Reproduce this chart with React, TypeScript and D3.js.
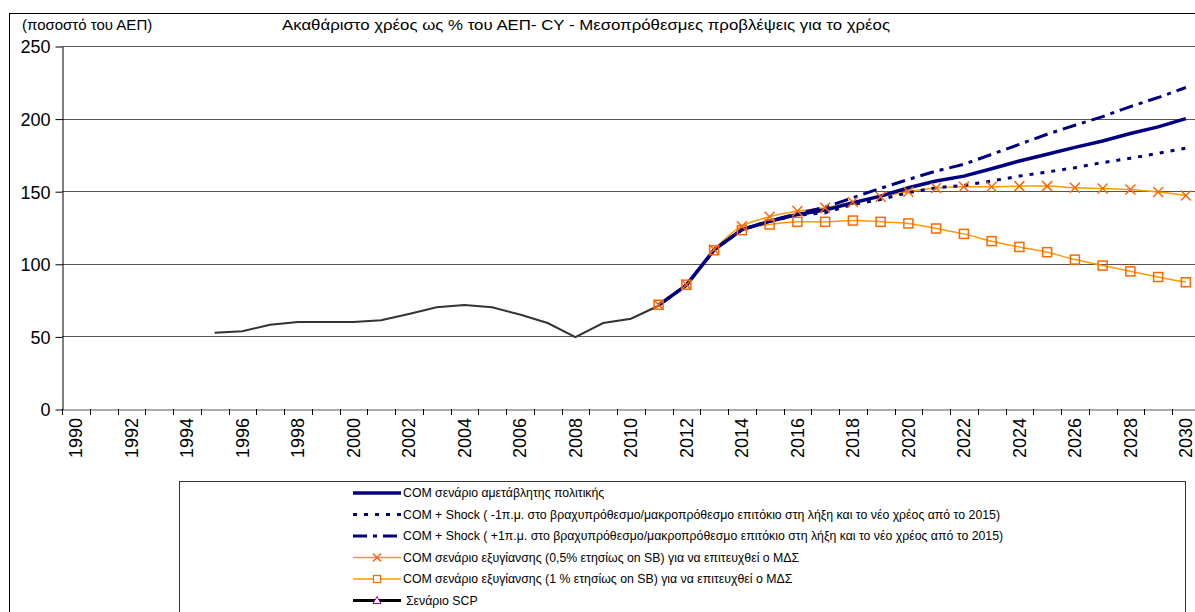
import React, { useEffect, useRef } from 'react';
import * as d3 from 'd3';

// categories (years on the x axis)
const years: number[] = d3.range(1990, 2031);
const yTicks = [0, 50, 100, 150, 200, 250];

// historical debt ratio
const histYears: number[] = d3.range(1995, 2012);
const histValues = [52.5, 53.6, 58.0, 59.9, 59.9, 59.9, 61.2, 65.4, 70.0, 71.6, 70.0, 65.1, 59.2, 49.5, 59.2, 62.2, 71.1];

// projections 2011-2030
const projYears: number[] = d3.range(2011, 2031);
const comBaseline = [71.5, 85.3, 109.6, 123.5, 129.3, 134.0, 137.0, 142.0, 146.6, 152.4, 157.0, 160.4, 165.5, 170.8, 175.4, 180.2, 184.6, 189.7, 194.3, 200.0];
const shockMinus = [71.5, 85.3, 109.6, 123.5, 129.3, 133.5, 135.1, 140.9, 144.3, 149.0, 152.4, 154.0, 157.0, 160.4, 163.2, 166.2, 169.7, 172.7, 176.1, 179.6];
const shockPlus = [71.5, 85.3, 109.6, 123.5, 129.5, 134.5, 139.0, 145.5, 152.0, 158.1, 163.9, 168.5, 175.4, 182.3, 189.2, 195.4, 201.4, 208.3, 214.5, 221.4];
const fiscal05 = [71.8, 85.6, 109.8, 125.9, 132.4, 136.3, 138.6, 142.5, 146.2, 149.6, 152.2, 153.1, 153.1, 153.5, 153.5, 152.4, 151.9, 151.2, 149.4, 147.1];
const fiscal1 = [71.8, 85.6, 109.3, 123.2, 127.1, 128.9, 128.9, 129.8, 128.9, 127.8, 124.3, 120.6, 115.6, 111.6, 108.0, 102.9, 98.8, 94.8, 90.9, 87.3];
const scpValues: number[] = [];

const legendLabels = [
  'COM σενάριο αμετάβλητης πολιτικής',
  'COM + Shock ( -1π.μ. στο βραχυπρόθεσμο/μακροπρόθεσμο επιτόκιο στη λήξη και το νέο χρέος από το 2015)',
  'COM + Shock ( +1π.μ. στο βραχυπρόθεσμο/μακροπρόθεσμο επιτόκιο στη λήξη και το νέο χρέος από το 2015)',
  'COM σενάριο εξυγίανσης (0,5% ετησίως on SB) για να επιτευχθεί ο ΜΔΣ',
  'COM σενάριο εξυγίανσης (1 % ετησίως on SB) για να επιτευχθεί ο ΜΔΣ',
  'Σενάριο SCP',
];

const NAVY = '#000080';
const ORANGE = '#FF9900';
const MARK = '#FF6600';
const FONT = '"Liberation Sans", Arial, sans-serif';

export default function App() {
  const ref = useRef<SVGSVGElement>(null);

  useEffect(() => {
    const svg = d3.select(ref.current);
    svg.selectAll('*').remove();

    const left = 62, top = 46, bottom = 409;
    const x = d3.scaleBand<number>().domain(years).range([left, left + 41 * 27.75]);
    const y = d3.scaleLinear().domain([0, 250]).range([bottom, top]);
    const cx = (yr: number) => (x(yr) as number) + x.bandwidth() / 2;

    // outer frame
    svg.append('rect').attr('x', 9.5).attr('y', 13.5).attr('width', 1250).attr('height', 700)
      .attr('fill', 'white').attr('stroke', '#000');

    svg.append('text').attr('x', 22).attr('y', 30).attr('font-family', FONT).attr('font-size', 15)
      .text('(ποσοστό του ΑΕΠ)');
    svg.append('text').attr('x', 282).attr('y', 30).attr('font-family', FONT).attr('font-size', 14)
      .attr('textLength', 608).attr('lengthAdjust', 'spacingAndGlyphs')
      .text('Ακαθάριστο χρέος ως % του ΑΕΠ- CY - Μεσοπρόθεσμες προβλέψεις για το χρέος');

    // gridlines
    const g = svg.append('g');
    g.selectAll('.grid').data(yTicks.filter(t => t > 0)).enter().append('line')
      .attr('x1', left).attr('x2', 1200)
      .attr('y1', d => Math.round(y(d)) + 0.5).attr('y2', d => Math.round(y(d)) + 0.5)
      .attr('stroke', '#555').attr('stroke-width', 1);

    // y axis
    const ya = g.append('g').attr('transform', `translate(${left + 0.5},0.5)`)
      .call(d3.axisLeft(y).tickValues(yTicks).tickSize(7).tickSizeOuter(0));
    ya.select('.domain').attr('stroke', '#000');
    ya.selectAll('line').attr('stroke', '#000');
    ya.selectAll('text').attr('font-family', FONT).attr('font-size', 18).attr('fill', '#000')
      .attr('x', -12).attr('dy', '0.35em');

    // x axis
    const xa = g.append('g').attr('transform', `translate(0.5,${bottom + 0.5})`)
      .call(d3.axisBottom(x).tickSize(0).tickFormat(() => ''));
    xa.select('.domain').attr('stroke', '#555');
    g.selectAll('.xtick').data(years.concat([2031])).enter().append('line')
      .attr('x1', d => Math.round(x(d) ?? left + 41 * 27.75) + 0.5)
      .attr('x2', d => Math.round(x(d) ?? left + 41 * 27.75) + 0.5)
      .attr('y1', bottom).attr('y2', bottom + 6).attr('stroke', '#000');
    g.selectAll('.xlab').data(years.filter(d => d % 2 === 0)).enter().append('text')
      .attr('transform', d => `translate(${cx(d) + 6.5},${bottom + 9}) rotate(-90)`)
      .attr('text-anchor', 'end').attr('font-family', FONT).attr('font-size', 18)
      .text(d => String(d));

    const straight = d3.line<[number, number]>().x(d => cx(d[0])).y(d => y(d[1]));
    const smooth = d3.line<[number, number]>().x(d => cx(d[0])).y(d => y(d[1])).curve(d3.curveCatmullRom);
    const pairs = (ys: number[], vs: number[]) => ys.map((yr, i) => [yr, vs[i]] as [number, number]);

    // historical line
    g.append('path').attr('d', straight(pairs(histYears, histValues))).attr('fill', 'none')
      .attr('stroke', '#333').attr('stroke-width', 2);

    // orange scenarios
    const p05 = pairs(projYears, fiscal05);
    const p1 = pairs(projYears, fiscal1);
    g.append('path').attr('d', smooth(p1)).attr('fill', 'none').attr('stroke', ORANGE).attr('stroke-width', 1.5);
    g.append('path').attr('d', smooth(p05)).attr('fill', 'none').attr('stroke', ORANGE).attr('stroke-width', 1.5);

    // navy scenarios
    g.append('path').attr('d', straight(pairs(projYears, shockMinus))).attr('fill', 'none')
      .attr('stroke', NAVY).attr('stroke-width', 3).attr('stroke-dasharray', '4 7');
    g.append('path').attr('d', straight(pairs(projYears, shockPlus))).attr('fill', 'none')
      .attr('stroke', NAVY).attr('stroke-width', 3).attr('stroke-dasharray', '14 6 4 6');
    g.append('path').attr('d', straight(pairs(projYears, comBaseline))).attr('fill', 'none')
      .attr('stroke', NAVY).attr('stroke-width', 3.5);

    // markers
    const cross = (sel: any, px: number, py: number, s: number) => {
      sel.append('path').attr('d', `M${px - s},${py - s}L${px + s},${py + s}M${px - s},${py + s}L${px + s},${py - s}`)
        .attr('stroke', MARK).attr('stroke-width', 1.5).attr('fill', 'none');
    };
    const square = (sel: any, px: number, py: number, s: number) => {
      sel.append('rect').attr('x', px - s).attr('y', py - s).attr('width', 2 * s).attr('height', 2 * s)
        .attr('stroke', MARK).attr('stroke-width', 1.5).attr('fill', 'none');
    };
    p1.forEach(d => square(g, cx(d[0]), y(d[1]), 4.5));
    p05.forEach(d => cross(g, cx(d[0]), y(d[1]), 5));

    // SCP series (no values in chart)
    g.append('path').attr('d', straight(pairs(projYears.slice(0, scpValues.length), scpValues)) ?? '')
      .attr('fill', 'none').attr('stroke', '#000').attr('stroke-width', 3);

    // legend
    const lg = svg.append('g');
    lg.append('rect').attr('x', 179.5).attr('y', 481.5).attr('width', 1006).attr('height', 200)
      .attr('fill', 'white').attr('stroke', '#333');
    const rowY = (i: number) => 493 + i * 21.5;
    const lx1 = 353, lx2 = 401, lmid = 377;
    const styles = [
      { stroke: NAVY, w: 3.5, dash: null },
      { stroke: NAVY, w: 3, dash: '4 7' },
      { stroke: NAVY, w: 3, dash: '14 6 4 6' },
      { stroke: ORANGE, w: 1.5, dash: null },
      { stroke: ORANGE, w: 1.5, dash: null },
      { stroke: '#000', w: 3, dash: null },
    ];
    legendLabels.forEach((label, i) => {
      const yy = rowY(i);
      lg.append('line').attr('x1', lx1).attr('x2', lx2).attr('y1', yy).attr('y2', yy)
        .attr('stroke', styles[i].stroke).attr('stroke-width', styles[i].w)
        .attr('stroke-dasharray', styles[i].dash);
      if (i === 3) cross(lg, lmid, yy, 4);
      if (i === 4) {
        lg.append('rect').attr('x', lmid - 3.5).attr('y', yy - 3.5).attr('width', 7).attr('height', 7)
          .attr('stroke', MARK).attr('stroke-width', 1.2).attr('fill', 'white');
      }
      if (i === 5) {
        lg.append('path').attr('d', `M${lmid},${yy - 4}L${lmid + 4},${yy + 3}L${lmid - 4},${yy + 3}Z`)
          .attr('stroke', '#990099').attr('stroke-width', 1).attr('fill', 'white');
      }
      lg.append('text').attr('x', i === 5 ? 406 : 403).attr('y', yy).attr('dy', '0.35em')
        .attr('font-family', FONT).attr('font-size', 12.3).text(label);
    });
  }, []);

  return (
    <svg ref={ref} width={1195} height={612}
      style={{ position: 'absolute', left: 0, top: 0, background: 'white', overflow: 'hidden' }} />
  );
}
